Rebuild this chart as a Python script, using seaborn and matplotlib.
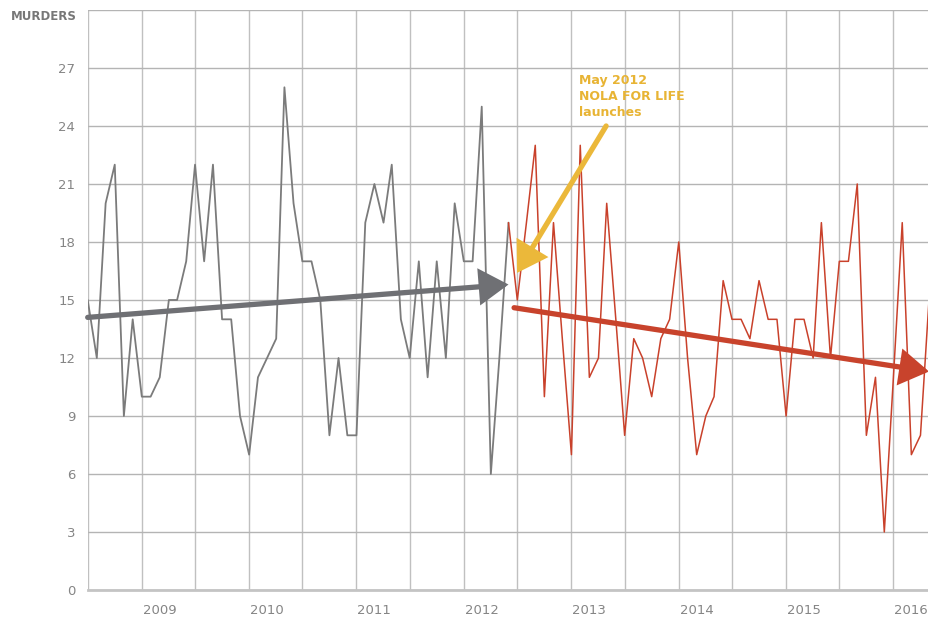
import matplotlib
matplotlib.use("Agg")
import matplotlib.pyplot as plt
import matplotlib.dates as mdates
import pandas as pd
import seaborn as sns

# monthly murders, May 2008 - Apr 2012 (before) and Apr 2012 - Mar 2016 (after)
before_values = [15, 12, 20, 22, 9, 14, 10, 10, 11, 15, 15, 17,
                 22, 17, 22, 14, 14, 9, 7, 11, 12, 13, 26, 20,
                 17, 17, 15, 8, 12, 8, 8, 19, 21, 19, 22, 14,
                 12, 17, 11, 17, 12, 20, 17, 17, 25, 6, 12, 19]
after_values = [19, 15, 19, 23, 10, 19, 13, 7, 23, 11, 12, 20,
                14, 8, 13, 12, 10, 13, 14, 18, 12, 7, 9, 10,
                16, 14, 14, 13, 16, 14, 14, 9, 14, 14, 12, 19,
                12, 17, 17, 21, 8, 11, 3, 11, 19, 7, 8, 15]
before_start = "2008-05-01"
after_start = "2012-04-01"

# trend arrows (start, end)
before_trend_dates = ["2008-05-01", "2012-04-01"]
before_trend = [14.1, 15.8]
after_trend_dates = ["2012-04-20", "2016-03-01"]
after_trend = [14.6, 11.3]

# annotation
launch_label = "May 2012\nNOLA FOR LIFE\nlaunches"
launch_arrow_dates = ["2013-02-27", "2012-04-30"]
launch_arrow_values = [24.0, 16.4]
launch_text_date = "2012-11-27"
launch_text_value = 26.7

y_ticks = list(range(0, 31, 3))

GRAY = "#7b7b7b"
RED = "#c9412b"
YELLOW = "#ebb83a"
TEXT = "#858585"

before = pd.DataFrame({"month": pd.date_range(before_start, periods=len(before_values), freq="MS"),
                       "murders": before_values})
after = pd.DataFrame({"month": pd.date_range(after_start, periods=len(after_values), freq="MS"),
                      "murders": after_values})

sns.set_theme(style="white")
plt.rcParams["font.family"] = ["DejaVu Sans"]

fig = plt.figure(figsize=(9.29, 6.2), dpi=100)
ax = fig.add_axes([0.0944, 0.0484, 0.9056, 0.9355])

sns.lineplot(data=before, x="month", y="murders", color=GRAY, linewidth=1.3, ax=ax)
sns.lineplot(data=after, x="month", y="murders", color=RED, linewidth=1.1, ax=ax)

ax.set_xlim(before["month"].iloc[0], after["month"].iloc[-1])
ax.set_ylim(0, 30)

# grid: horizontal every 3, vertical every six months
ax.set_yticks(y_ticks)
ax.set_yticklabels([str(v) if v < 30 else "" for v in y_ticks])
ax.xaxis.set_major_locator(mdates.YearLocator())
ax.xaxis.set_major_formatter(mdates.DateFormatter("%Y"))
ax.xaxis.set_minor_locator(mdates.MonthLocator(bymonth=[5, 11]))
ax.grid(False)
ax.grid(axis="y", which="major", color="#b4b4b4", linewidth=1)
ax.grid(axis="x", which="minor", color="#c0c0c0", linewidth=1)
ax.set_axisbelow(True)

for side in ["top", "right", "left"]:
    ax.spines[side].set_visible(False)
ax.spines["bottom"].set_color("#c4c4c4")
ax.spines["bottom"].set_linewidth(2)

ax.tick_params(axis="both", which="both", length=0, labelsize=9.5, labelcolor=TEXT)
ax.tick_params(axis="y", pad=9)
ax.tick_params(axis="x", pad=10)
ax.set_xlabel("")
ax.set_ylabel("")

ax.text(-0.0125, 30, "MURDERS", transform=ax.get_yaxis_transform(), ha="right", va="top",
        fontsize=8.5, fontweight="bold", color="#777777")

# trend arrows
def draw_arrow(dates, values, color):
    ax.annotate("", xy=(pd.Timestamp(dates[1]), values[1]),
                xytext=(pd.Timestamp(dates[0]), values[0]),
                arrowprops=dict(arrowstyle="-|>,head_length=1.6,head_width=1.0",
                                mutation_scale=10, lw=3.8, color=color,
                                shrinkA=0, shrinkB=0, joinstyle="miter"),
                annotation_clip=False)

draw_arrow(before_trend_dates, before_trend, "#6f7074")
draw_arrow(after_trend_dates, after_trend, "#c8432c")
draw_arrow(launch_arrow_dates, launch_arrow_values, YELLOW)

ax.text(pd.Timestamp(launch_text_date), launch_text_value, launch_label,
        ha="left", va="top", fontsize=9, fontweight="bold", color="#e8b434", linespacing=1.3)

fig.savefig("out.png", dpi=100)
